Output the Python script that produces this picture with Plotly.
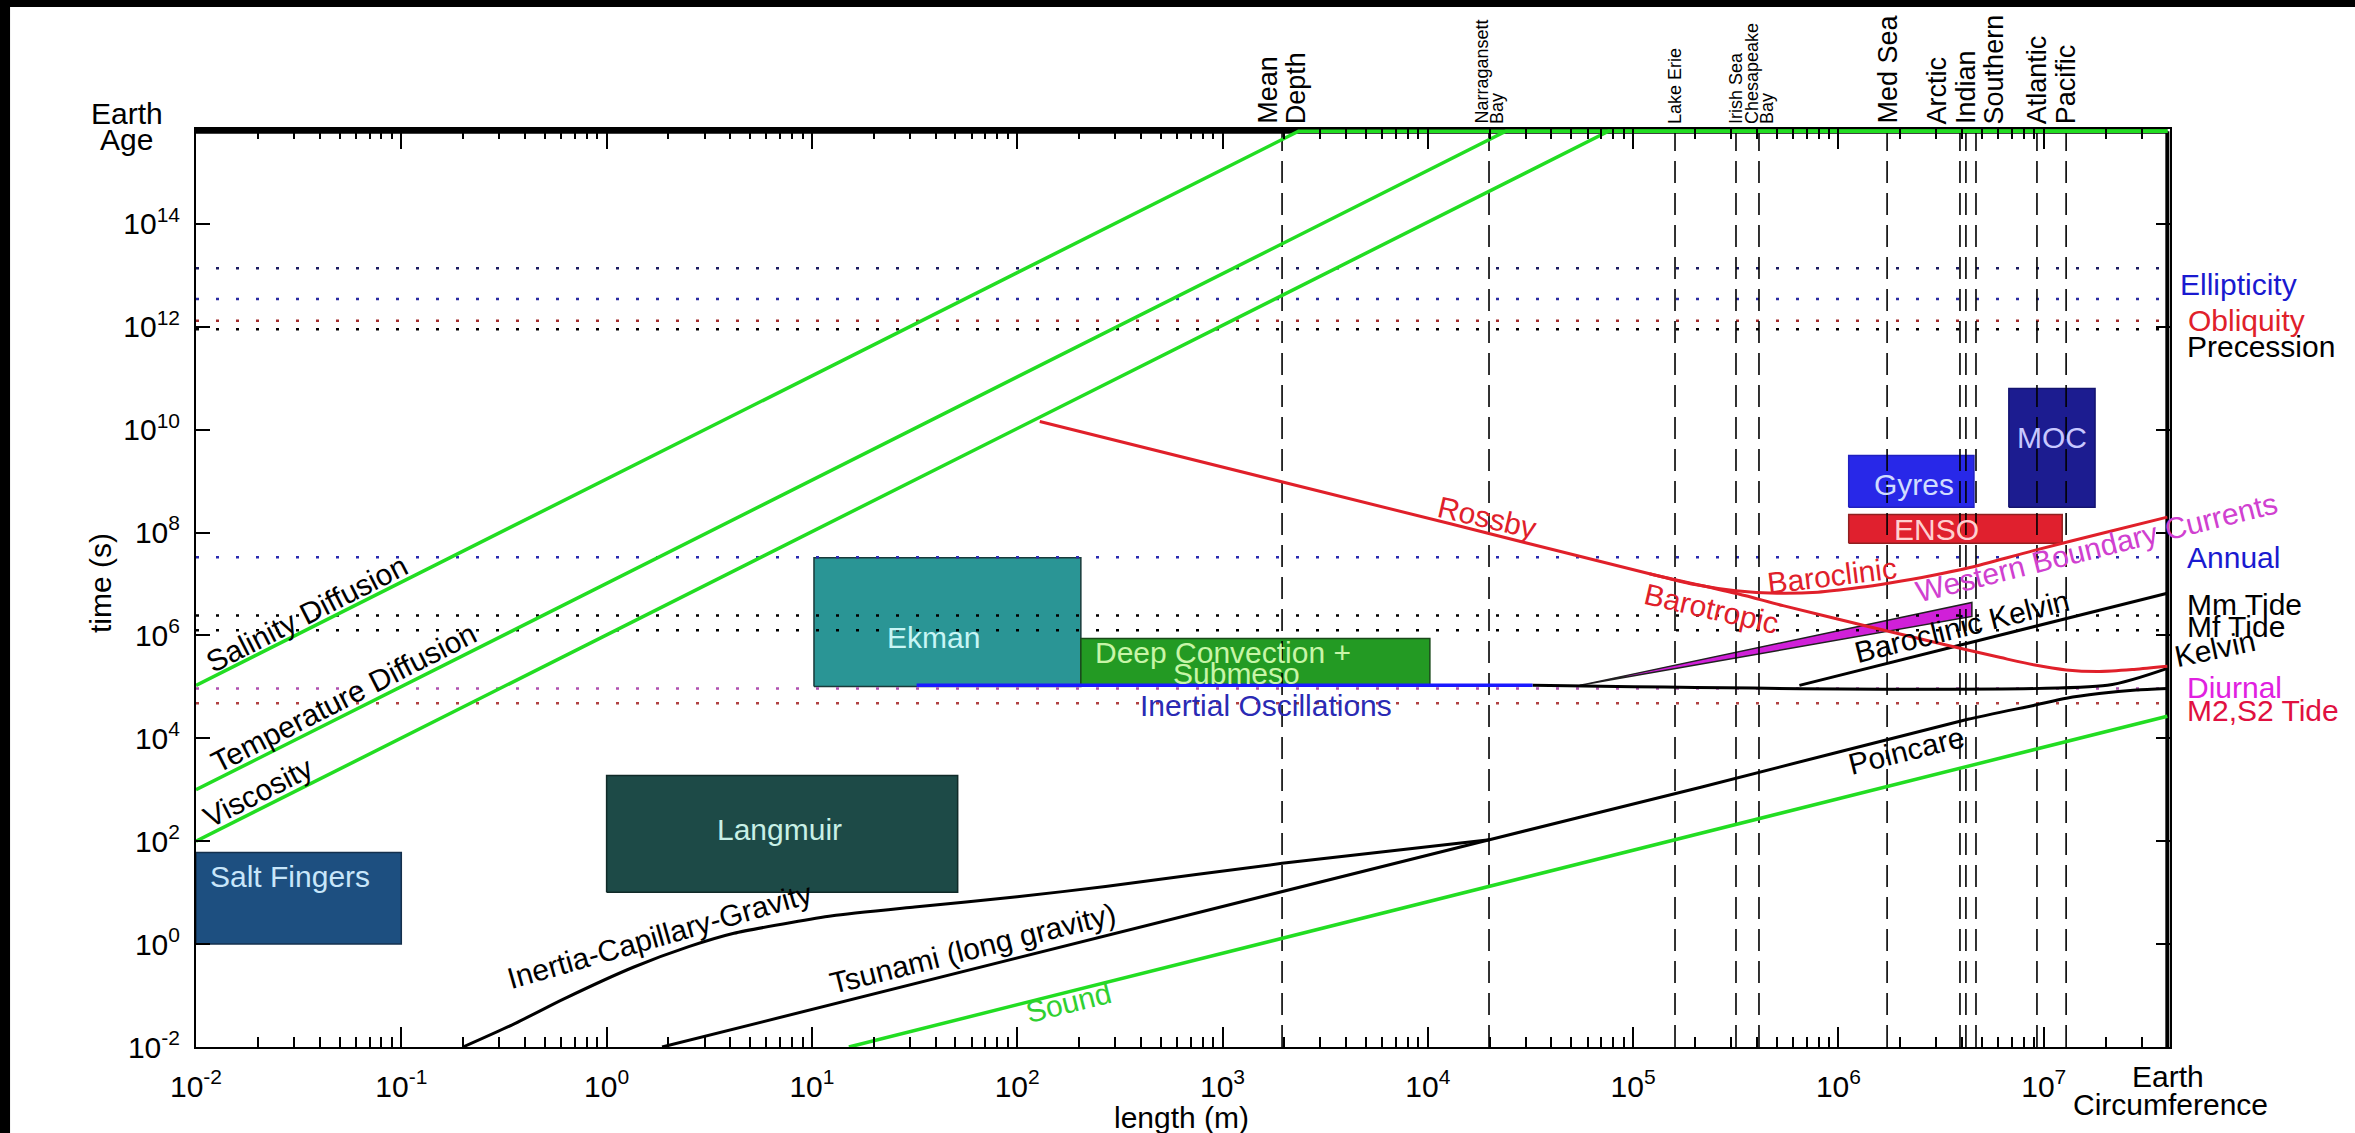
import numpy as np
import plotly.graph_objects as go

# ------------------------------------------------------------------
# DATA  (all values are log10: x = length in m, y = time in s)
# ------------------------------------------------------------------
X_EARTH = 7.602          # Earth circumference
Y_EARTH = 15.8           # "Earth Age" line at the top

x_tick_exp = list(range(-2, 8))
y_tick_exp = list(range(-2, 15, 2))

# diffusive / viscous time scales (green)
salinity_x = [-2.0, 3.37, 7.602]
salinity_y = [5.03, 15.8, 15.8]
temperature_x = [-2.0, 4.38, 7.602]
temperature_y = [3.0, 15.8, 15.8]
viscosity_x = [-2.0, 4.88, 7.602]
viscosity_y = [2.0, 15.8, 15.8]
sound_x = [1.18, 7.602]
sound_y = [-2.0, 4.43]

# surface / long gravity waves (black)
icg_x = [-0.70, -0.45, -0.20, 0.13, 0.40, 0.62, 0.90, 1.10, 1.50, 2.00, 2.43, 3.29, 4.30]
icg_y = [-2.00, -1.55, -1.05, -0.45, -0.05, 0.21, 0.42, 0.55, 0.72, 0.92, 1.12, 1.57, 2.03]
tsunami_x = [0.27, 4.30, 5.33, 6.63, 6.95, 7.11, 7.27, 7.45, 7.602]
tsunami_y = [-2.00, 2.03, 3.05, 4.37, 4.64, 4.78, 4.87, 4.94, 4.97]
kelvin_x = [4.51, 7.31, 7.602]
kelvin_y = [5.03, 5.03, 5.36]
bc_kelvin_x = [5.81, 7.602]
bc_kelvin_y = [5.03, 6.82]
inertial_x = [1.51, 4.51]
inertial_y = [5.03, 5.03]

# Rossby waves (red)
rossby_bt_x = [2.11, 4.11, 5.08, 5.51, 5.73, 6.14, 6.53, 6.79, 6.95, 7.11, 7.27, 7.44, 7.602]
rossby_bt_y = [10.16, 8.17, 7.20, 6.81, 6.58, 6.18, 5.81, 5.57, 5.43, 5.33, 5.30, 5.34, 5.40]
rossby_bc_x = [5.08, 5.30, 5.50, 5.70, 5.90, 6.10, 6.25, 6.45, 6.64, 6.95, 7.30, 7.602]
rossby_bc_y = [7.20, 6.99, 6.87, 6.82, 6.84, 6.93, 7.02, 7.16, 7.32, 7.65, 8.00, 8.30]

# western boundary currents wedge (magenta)
wbc_x = [4.74, 6.65, 6.65, 4.74]
wbc_y = [5.03, 6.64, 6.37, 5.03]

# process boxes: name, x0, x1, y0, y1
box_names = ["Salt Fingers", "Langmuir", "Ekman", "Deep Convection", "Gyres", "ENSO", "MOC"]
box_x0 = [-2.00, 0.00, 1.01, 2.31, 6.05, 6.05, 6.83]
box_x1 = [-1.00, 1.71, 2.31, 4.01, 6.66, 7.09, 7.25]
box_y0 = [0.00, 1.01, 5.01, 5.03, 8.49, 7.79, 8.49]
box_y1 = [1.78, 3.28, 7.51, 5.94, 9.50, 8.35, 10.80]

# astronomical / tidal periods (dotted horizontal lines)
period_y = [13.14, 12.54, 12.12, 11.95, 7.52, 6.39, 6.10, 4.97, 4.68]
period_names = ["Ellipticity 400k", "Ellipticity 100k", "Obliquity", "Precession",
                "Annual", "Mm Tide", "Mf Tide", "Diurnal", "M2,S2 Tide"]

# basin / feature length scales (dashed vertical lines)
feature_x = [3.290, 4.298, 5.204, 5.501, 5.613, 6.237, 6.592, 6.621, 6.670, 6.967, 7.109]

# ------------------------------------------------------------------
# STYLE
# ------------------------------------------------------------------
FONT = "Liberation Sans, Arial, Helvetica, sans-serif"
GREEN = "#22dd22"
RED = "#e0202a"
BLUE = "#1a1ad0"
MAGENTA = "#e020e0"

box_fill = ["#1d4f80", "#1d4a47", "#2a9595", "#239a23", "#2828e8", "#e0202e", "#1c1c90"]
box_edge = ["#14304d", "#102a28", "#1a3a3a", "#1a4a1a", "#2020c0", "#902020", "#141470"]
period_col = ["#1a1a60", "#2a2aa0", "#a02a2a", "#000000", "#2a2ab0",
              "#000000", "#000000", "#b050b0", "#b04040"]


def P(v):
    return 10 ** np.asarray(v, dtype=float)


fig = go.Figure()

# boxes
for i, name in enumerate(box_names):
    fig.add_trace(go.Scatter(
        x=P([box_x0[i], box_x1[i], box_x1[i], box_x0[i], box_x0[i]]),
        y=P([box_y0[i], box_y0[i], box_y1[i], box_y1[i], box_y0[i]]),
        mode="lines", fill="toself", fillcolor=box_fill[i],
        line=dict(color=box_edge[i], width=1.5), name=name, hoverinfo="skip"))

# WBC wedge
fig.add_trace(go.Scatter(x=P(wbc_x), y=P(wbc_y), mode="lines", fill="toself",
                         fillcolor="#d020d8", line=dict(color="#202020", width=1.5),
                         hoverinfo="skip"))

# dotted horizontal period lines
for yv, c in zip(period_y, period_col):
    fig.add_trace(go.Scatter(x=P([-2, X_EARTH]), y=P([yv, yv]), mode="lines",
                             line=dict(color=c, width=2.5, dash="3px,17px"),
                             hoverinfo="skip"))

# dashed vertical feature lines
for xv in feature_x:
    fig.add_trace(go.Scatter(x=P([xv, xv]), y=P([-2, Y_EARTH]), mode="lines",
                             line=dict(color="black", width=1.6, dash="22px,10px"),
                             hoverinfo="skip"))

# thick frame: top (Earth age) and right (Earth circumference)
fig.add_trace(go.Scatter(x=P([-2, X_EARTH]), y=P([Y_EARTH, Y_EARTH]), mode="lines",
                         line=dict(color="black", width=5), hoverinfo="skip"))
fig.add_trace(go.Scatter(x=P([X_EARTH, X_EARTH]), y=P([-2, Y_EARTH]), mode="lines",
                         line=dict(color="black", width=4), hoverinfo="skip"))

# green lines
for xs, ys in [(salinity_x, salinity_y), (temperature_x, temperature_y),
               (viscosity_x, viscosity_y), (sound_x, sound_y)]:
    fig.add_trace(go.Scatter(x=P(xs), y=P(ys), mode="lines",
                             line=dict(color=GREEN, width=3.5), hoverinfo="skip"))

# black wave curves
for xs, ys in [(icg_x, icg_y), (tsunami_x, tsunami_y), (kelvin_x, kelvin_y),
               (bc_kelvin_x, bc_kelvin_y)]:
    fig.add_trace(go.Scatter(x=P(xs), y=P(ys), mode="lines",
                             line=dict(color="black", width=3, shape="spline", smoothing=0.6),
                             hoverinfo="skip"))

# inertial oscillations
fig.add_trace(go.Scatter(x=P(inertial_x), y=P(inertial_y), mode="lines",
                         line=dict(color="#1a1aff", width=3.5), hoverinfo="skip"))

# Rossby
for xs, ys in [(rossby_bt_x, rossby_bt_y), (rossby_bc_x, rossby_bc_y)]:
    fig.add_trace(go.Scatter(x=P(xs), y=P(ys), mode="lines",
                             line=dict(color=RED, width=3, shape="spline", smoothing=0.8),
                             hoverinfo="skip"))

# ------------------------------------------------------------------
# ANNOTATIONS
# ------------------------------------------------------------------
ann = []


def A(text, x, y, size=30, color="black", angle=0, xref="x", yref="y",
      xanchor="center", yanchor="middle", **kw):
    ann.append(dict(text=text, x=x, y=y, xref=xref, yref=yref, showarrow=False,
                    textangle=angle, xanchor=xanchor, yanchor=yanchor,
                    font=dict(family=FONT, size=size, color=color), **kw))


# curve labels
curve_labels = [
    ("Salinity Diffusion", -1.46, 6.43, -27, "black"),
    ("Temperature Diffusion", -1.28, 4.80, -27, "black"),
    ("Viscosity", -1.70, 2.95, -27, "black"),
    ("Inertia-Capillary-Gravity", 0.26, 0.17, -16, "black"),
    ("Tsunami (long gravity)", 1.78, -0.08, -14, "black"),
    ("Sound", 2.25, -1.13, -14, "#30d030"),
    ("Poincare", 6.33, 3.77, -14, "black"),
    ("Rossby", 4.29, 8.29, 13, RED),
    ("Barotropic", 5.38, 6.52, 13, RED),
    ("Baroclinic", 5.97, 7.17, -7, RED),
    ("Baroclinic Kelvin", 6.60, 6.17, -14, "black"),
    ("Western Boundary Currents", 7.255, 7.71, -14, "#d040d0"),
    ("Inertial Oscillations", 3.21, 4.64, 0, "#2a2ab4"),
]
for t, x, y, a, c in curve_labels:
    A(t, x, y, angle=a, color=c)

# box labels
box_labels = [
    ("Salt Fingers", -1.54, 1.32, "#c8e6fa"),
    ("Langmuir", 0.84, 2.23, "#c8f0e6"),
    ("Ekman", 1.59, 5.96, "#c8f5f5"),
    ("Deep Convection +", 3.00, 5.67, "#c8f5a8"),
    ("Submeso", 3.07, 5.26, "#c8f5a8"),
    ("Gyres", 6.37, 8.93, "#d0dcff"),
    ("ENSO", 6.48, 8.06, "#ffd0d0"),
    ("MOC", 7.04, 9.84, "#c8c8ff"),
]
for t, x, y, c in box_labels:
    A(t, x, y, color=c)

# right-hand period labels (paper x, data y)
right_labels = [
    ("Ellipticity", 1.004, 12.82, BLUE),
    ("Obliquity", 1.0081, 12.12, RED),
    ("Precession", 1.0076, 11.62, "black"),
    ("Annual", 1.0076, 7.51, BLUE),
    ("Mm Tide", 1.0076, 6.60, "black"),
    ("Mf Tide", 1.0076, 6.17, "black"),
    ("Diurnal", 1.0076, 4.99, MAGENTA),
    ("M2,S2 Tide", 1.0076, 4.54, "#e01040"),
]
for t, x, y, c in right_labels:
    A(t, x, y, color=c, xref="paper", xanchor="left")
A("Kelvin", 1.023, 5.75, angle=-12, xref="paper")

# top feature labels (rotated, one annotation per text line)
top_labels = [
    (3.290, ["Mean", "Depth"], 27, 28.5),
    (4.298, ["Narragansett", "Bay"], 18, 15),
    (5.204, ["Lake Erie"], 18, 15),
    (5.501, ["Irish Sea"], 18, 15),
    (5.613, ["Chesapeake", "Bay"], 18, 15),
    (6.237, ["Med Sea"], 27, 28.5),
    (6.621, ["Arctic", "Indian", "Southern"], 27, 28.5),
    (7.038, ["Atlantic", "Pacific"], 27, 29.5),
]
for xv, lines, size, sp in top_labels:
    n = len(lines)
    for i, t in enumerate(lines):
        A(t, xv, 1.0, size=size, angle=-90, yref="paper", yanchor="bottom",
          xshift=(i - (n - 1) / 2) * sp, yshift=3)

# axis titles and end labels
A("time (s)", -0.0486, 0.5054, angle=-90, xref="paper", yref="paper")
A("length (m)", 0.499, -0.0773, xref="paper", yref="paper")
A("Earth", 0.999, -0.0316, xref="paper", yref="paper")
A("Circumference", 1.0, -0.0621, xref="paper", yref="paper")
A("Earth", -0.035, 1.0174, xref="paper", yref="paper")
A("Age", -0.035, 0.989, xref="paper", yref="paper")

# ------------------------------------------------------------------
# LAYOUT
# ------------------------------------------------------------------
minor_x = [m * 10.0 ** k for k in range(-2, 8) for m in range(2, 10) if m * 10.0 ** k < 4.0e7]

fig.update_layout(
    width=2355, height=1133, autosize=False,
    margin=dict(l=196, r=185, t=129, b=86),
    paper_bgcolor="white", plot_bgcolor="white",
    showlegend=False, hovermode=False,
    font=dict(family=FONT, size=30, color="black"),
    annotations=ann,
    shapes=[
        dict(type="rect", xref="paper", yref="paper", x0=-0.0993, x1=-0.0942,
             y0=-0.1, y1=1.15, fillcolor="black", line=dict(width=0)),
        dict(type="rect", xref="paper", yref="paper", x0=-0.0993, x1=1.1,
             y0=1.1329, y1=1.15, fillcolor="black", line=dict(width=0)),
    ],
    xaxis=dict(
        type="log", range=[-2, 7.615], showgrid=False, zeroline=False,
        showline=True, linecolor="black", linewidth=2, mirror="ticks",
        ticks="inside", ticklen=20, tickwidth=1.5, tickcolor="black",
        tickmode="array", tickvals=[10.0 ** k for k in x_tick_exp],
        ticktext=["10<sup>%d</sup>" % k for k in x_tick_exp],
        tickfont=dict(family=FONT, size=30), ticklabelstandoff=12,
        minor=dict(ticks="inside", ticklen=10, tickwidth=1.5, tickcolor="black",
                   tickmode="array", tickvals=minor_x, showgrid=False),
    ),
    yaxis=dict(
        type="log", range=[-2, 15.845], showgrid=False, zeroline=False,
        showline=True, linecolor="black", linewidth=2, mirror="ticks",
        ticks="inside", ticklen=14, tickwidth=1.5, tickcolor="black",
        tickmode="array", tickvals=[10.0 ** k for k in y_tick_exp],
        ticktext=["10<sup>%d</sup>" % k for k in y_tick_exp],
        tickfont=dict(family=FONT, size=30), ticklabelstandoff=8,
    ),
)

fig.write_html(
    "out.html",
    config={"displayModeBar": False},
    post_script="document.body.style.margin='0px';document.body.style.overflow='hidden';",
)
